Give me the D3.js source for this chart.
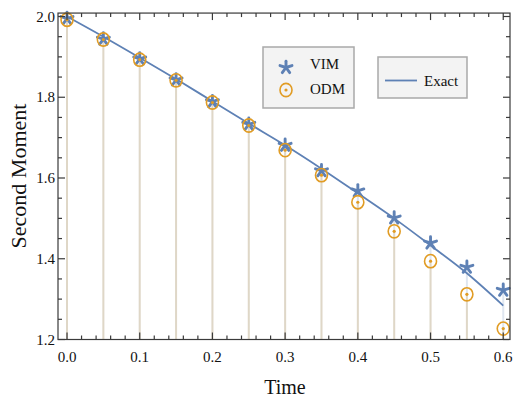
<!DOCTYPE html>
<html>
<head>
<meta charset="utf-8">
<script src="https://cdn.jsdelivr.net/npm/d3@7"></script>
<style>
  html, body { margin: 0; padding: 0; background: #fff; }
  svg { display: block; }
  text { font-family: "Liberation Serif", "Times New Roman", serif; fill: #111; }
</style>
</head>
<body>
<svg id="chart" width="513" height="398"></svg>
<script>
// Time samples and the three second-moment series
const times = [0, 0.05, 0.1, 0.15, 0.2, 0.25, 0.3, 0.35, 0.4, 0.45, 0.5, 0.55, 0.6];
const vim   = [1.995, 1.944, 1.895, 1.843, 1.789, 1.733, 1.681, 1.618, 1.568, 1.501, 1.439, 1.379, 1.322];
const odm   = [1.992, 1.943, 1.893, 1.842, 1.787, 1.730, 1.669, 1.607, 1.540, 1.468, 1.394, 1.312, 1.227];
const exact = [2.0, 1.950, 1.898, 1.845, 1.790, 1.735, 1.681, 1.623, 1.562, 1.500, 1.433, 1.364, 1.284];

const xTicks = [0, 0.1, 0.2, 0.3, 0.4, 0.5, 0.6];
const yTicks = [1.2, 1.4, 1.6, 1.8, 2.0];

const BLUE = "#5e81b5", ORANGE = "#e19c24";

const svg = d3.select("#chart");
const x = d3.scaleLinear().domain([-0.0124, 0.6093]).range([58, 510]);
const y = d3.scaleLinear().domain([1.2, 2.0]).range([339.5, 16.5]);
const yTop = y(2.0085), yBot = y(1.2);

// Stems down to the bottom axis (VIM in blue, ODM in orange, both translucent)
const stems = svg.append("g");
stems.selectAll(".sv").data(times).join("line")
  .attr("x1", d => x(d)).attr("x2", d => x(d))
  .attr("y1", (d, i) => y(vim[i])).attr("y2", yBot)
  .attr("stroke", BLUE).attr("stroke-opacity", 0.2).attr("stroke-width", 2);
stems.selectAll(".so").data(times).join("line")
  .attr("x1", d => x(d)).attr("x2", d => x(d))
  .attr("y1", (d, i) => y(odm[i])).attr("y2", yBot)
  .attr("stroke", ORANGE).attr("stroke-opacity", 0.2).attr("stroke-width", 2);

// Exact solution curve
const line = d3.line().x((d, i) => x(times[i])).y(d => y(d)).curve(d3.curveMonotoneX);
svg.append("path").datum(exact)
  .attr("d", line).attr("fill", "none")
  .attr("stroke", BLUE).attr("stroke-width", 1.8);

// Five-armed asterisk marker
function asterisk(g, cx, cy, r) {
  const a = g.append("g").attr("transform", `translate(${cx},${cy})`);
  for (let k = 0; k < 5; k++) {
    const ang = -Math.PI / 2 + k * 2 * Math.PI / 5;
    a.append("line").attr("x1", 0).attr("y1", 0)
      .attr("x2", r * Math.cos(ang)).attr("y2", r * Math.sin(ang))
      .attr("stroke", BLUE).attr("stroke-width", 2.9).attr("stroke-linecap", "round");
  }
}
// Ring with a centre dot
function ringDot(g, cx, cy) {
  g.append("ellipse").attr("cx", cx).attr("cy", cy).attr("rx", 6).attr("ry", 6.6)
    .attr("fill", "none").attr("stroke", ORANGE).attr("stroke-width", 1.6);
  g.append("circle").attr("cx", cx).attr("cy", cy).attr("r", 1.6).attr("fill", ORANGE);
}

const pts = svg.append("g");
times.forEach((t, i) => asterisk(pts, x(t), y(vim[i]), 6.3));
times.forEach((t, i) => ringDot(pts, x(t), y(odm[i])));

// Frame with inward ticks on all four sides
const frame = svg.append("g").attr("stroke", "#3a3a3a").attr("stroke-width", 1.2);
frame.append("rect").attr("x", 58).attr("y", yTop).attr("width", 510 - 58).attr("height", yBot - yTop)
  .attr("fill", "none");
const xMinor = d3.range(0, 0.6001, 0.02);
const yMinor = d3.range(1.2, 2.0001, 0.05);
xMinor.forEach(v => {
  const major = xTicks.some(t => Math.abs(t - v) < 1e-6);
  const L = major ? 7 : 4;
  frame.append("line").attr("x1", x(v)).attr("x2", x(v)).attr("y1", yBot).attr("y2", yBot - L);
  frame.append("line").attr("x1", x(v)).attr("x2", x(v)).attr("y1", yTop).attr("y2", yTop + L);
});
yMinor.forEach(v => {
  const major = yTicks.some(t => Math.abs(t - v) < 1e-6);
  const L = major ? 7 : 4;
  frame.append("line").attr("x1", 58).attr("x2", 58 + L).attr("y1", y(v)).attr("y2", y(v));
  frame.append("line").attr("x1", 510).attr("x2", 510 - L).attr("y1", y(v)).attr("y2", y(v));
});

// Tick labels
svg.append("g").selectAll("text").data(xTicks).join("text")
  .attr("x", d => x(d)).attr("y", 362).attr("text-anchor", "middle")
  .attr("font-size", 15).text(d => d.toFixed(1));
svg.append("g").selectAll("text").data(yTicks).join("text")
  .attr("x", 55).attr("y", d => y(d) + 5).attr("text-anchor", "end")
  .attr("font-size", 15).text(d => d.toFixed(1));

// Axis titles
svg.append("text").attr("x", 285).attr("y", 394).attr("text-anchor", "middle")
  .attr("font-size", 20).text("Time");
svg.append("text").attr("transform", "translate(26,176) rotate(-90)")
  .attr("text-anchor", "middle").attr("font-size", 22).text("Second Moment");

// Legend: markers
const lg1 = svg.append("g");
lg1.append("rect").attr("x", 263).attr("y", 47).attr("width", 91).attr("height", 61)
  .attr("fill", "#f3f3f3").attr("stroke", "#a9a9a9").attr("stroke-width", 1.5);
asterisk(lg1, 286, 67.5, 6.3);
ringDot(lg1, 286, 90);
lg1.append("text").attr("x", 310).attr("y", 68.5).attr("font-size", 15).text("VIM");
lg1.append("text").attr("x", 310).attr("y", 93.5).attr("font-size", 15).text("ODM");

// Legend: exact curve
const lg2 = svg.append("g");
lg2.append("rect").attr("x", 378).attr("y", 57).attr("width", 89).attr("height", 41)
  .attr("fill", "#f3f3f3").attr("stroke", "#a9a9a9").attr("stroke-width", 1.5);
lg2.append("line").attr("x1", 385).attr("x2", 417).attr("y1", 80.5).attr("y2", 80.5)
  .attr("stroke", BLUE).attr("stroke-width", 1.8);
lg2.append("text").attr("x", 424).attr("y", 85.5).attr("font-size", 15).text("Exact");
</script>
</body>
</html>
